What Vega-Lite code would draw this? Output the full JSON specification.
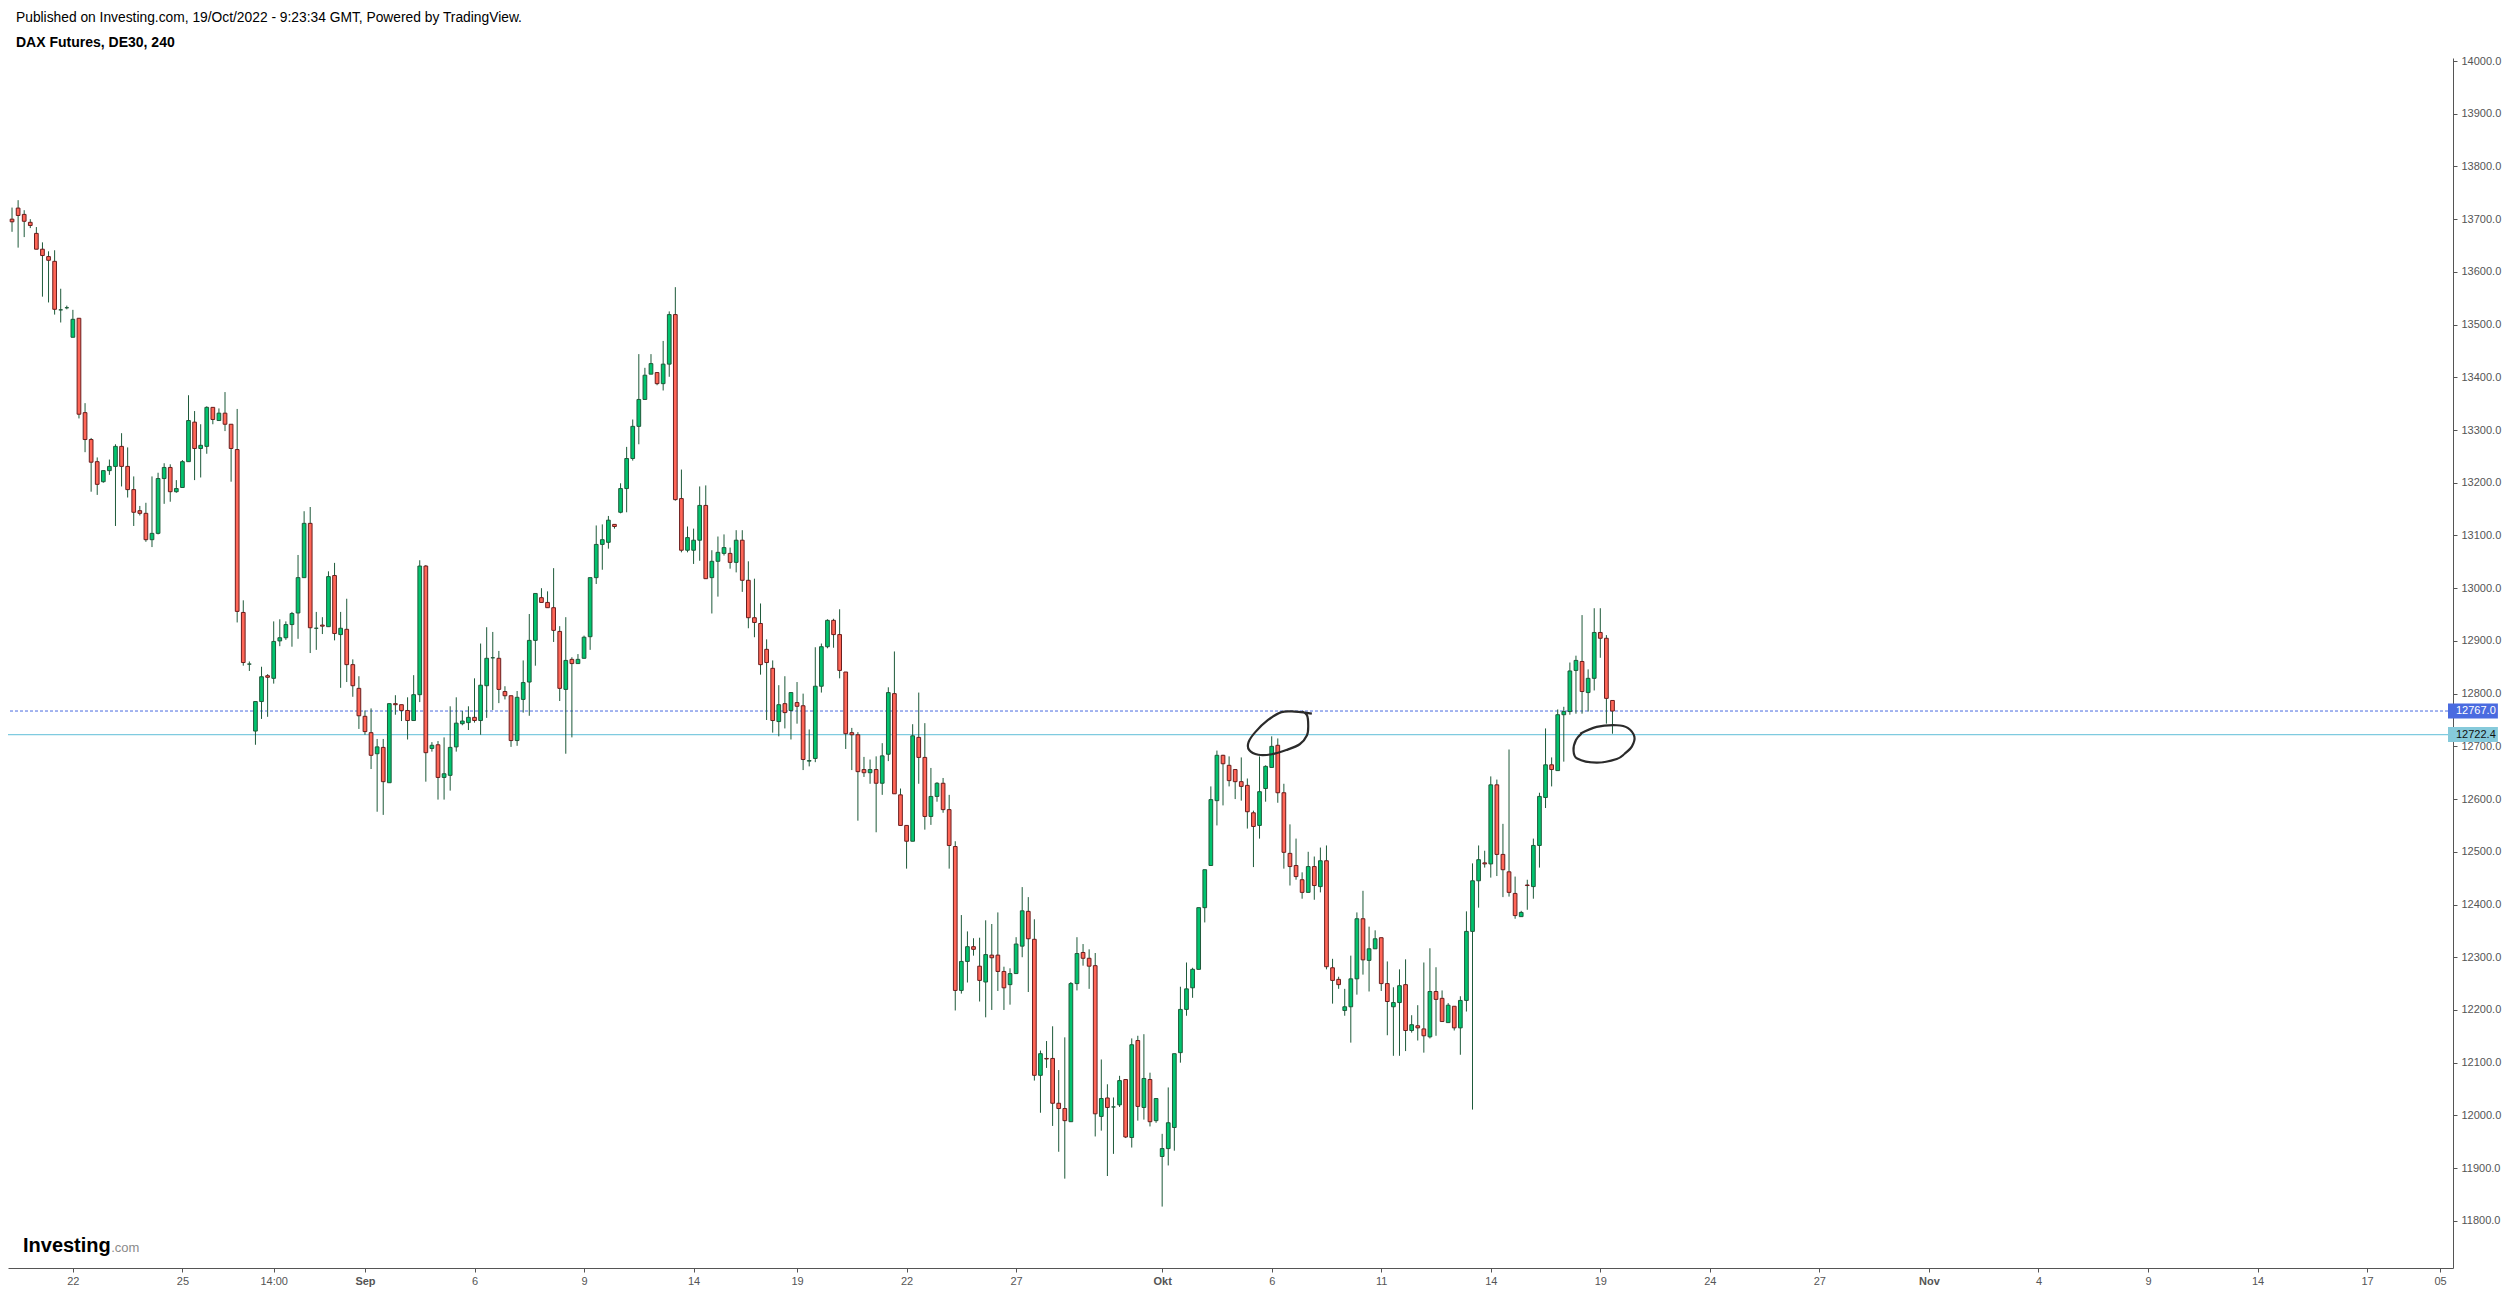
{
  "$schema": "https://vega.github.io/schema/vega-lite/v6.json",
  "width": 2445,
  "height": 1210,
  "autosize": {"type": "none"},
  "padding": {"left": 8, "top": 58, "right": 57, "bottom": 24},
  "background": "#ffffff",
  "config": {"view": {"stroke": null}, "font": "Liberation Sans"},
  "title": {
    "text": "Published on Investing.com, 19/Oct/2022 - 9:23:34 GMT, Powered by TradingView.",
    "subtitle": "DAX Futures, DE30, 240",
    "anchor": "start",
    "frame": "group",
    "orient": "top",
    "dx": 8,
    "offset": 5,
    "font": "Liberation Sans",
    "fontSize": 13.8,
    "fontWeight": "normal",
    "color": "#000000",
    "subtitleFont": "Liberation Sans",
    "subtitleFontSize": 14,
    "subtitleFontWeight": "bold",
    "subtitleColor": "#000000",
    "subtitlePadding": 11
  },
  "datasets": {
    "candles": [
      {"i":0,"o":13700,"h":13722,"l":13676,"c":13695},
      {"i":1,"o":13721,"h":13736,"l":13646,"c":13707},
      {"i":2,"o":13709,"h":13717,"l":13666,"c":13696},
      {"i":3,"o":13694,"h":13700,"l":13683,"c":13688},
      {"i":4,"o":13673,"h":13685,"l":13643,"c":13643},
      {"i":5,"o":13643,"h":13656,"l":13553,"c":13631},
      {"i":6,"o":13629,"h":13639,"l":13542,"c":13622},
      {"i":7,"o":13620,"h":13641,"l":13519,"c":13529},
      {"i":8,"o":13528,"h":13568,"l":13504,"c":13528},
      {"i":9,"o":13532,"h":13536,"l":13529,"c":13532},
      {"i":10,"o":13476,"h":13528,"l":13476,"c":13510},
      {"i":11,"o":13512,"h":13512,"l":13322,"c":13330},
      {"i":12,"o":13333,"h":13351,"l":13258,"c":13282},
      {"i":13,"o":13282,"h":13285,"l":13183,"c":13239},
      {"i":14,"o":13240,"h":13248,"l":13177,"c":13197},
      {"i":15,"o":13202,"h":13223,"l":13200,"c":13223},
      {"i":16,"o":13223,"h":13244,"l":13215,"c":13231},
      {"i":17,"o":13231,"h":13273,"l":13118,"c":13269},
      {"i":18,"o":13269,"h":13294,"l":13193,"c":13231},
      {"i":19,"o":13231,"h":13267,"l":13172,"c":13187},
      {"i":20,"o":13187,"h":13212,"l":13118,"c":13144},
      {"i":21,"o":13147,"h":13156,"l":13138,"c":13142},
      {"i":22,"o":13142,"h":13162,"l":13088,"c":13092},
      {"i":23,"o":13092,"h":13212,"l":13078,"c":13104},
      {"i":24,"o":13104,"h":13219,"l":13102,"c":13208},
      {"i":25,"o":13208,"h":13237,"l":13160,"c":13229},
      {"i":26,"o":13229,"h":13235,"l":13164,"c":13183},
      {"i":27,"o":13183,"h":13205,"l":13181,"c":13189},
      {"i":28,"o":13191,"h":13243,"l":13191,"c":13240},
      {"i":29,"o":13240,"h":13366,"l":13240,"c":13318},
      {"i":30,"o":13315,"h":13336,"l":13205,"c":13265},
      {"i":31,"o":13265,"h":13311,"l":13210,"c":13271},
      {"i":32,"o":13269,"h":13345,"l":13255,"c":13343},
      {"i":33,"o":13343,"h":13343,"l":13311,"c":13320},
      {"i":34,"o":13318,"h":13341,"l":13318,"c":13332},
      {"i":35,"o":13332,"h":13372,"l":13298,"c":13311},
      {"i":36,"o":13311,"h":13311,"l":13202,"c":13265},
      {"i":37,"o":13263,"h":13340,"l":12935,"c":12956},
      {"i":38,"o":12954,"h":12977,"l":12853,"c":12859},
      {"i":39,"o":12856,"h":12861,"l":12843,"c":12856},
      {"i":40,"o":12729,"h":12785,"l":12703,"c":12785},
      {"i":41,"o":12785,"h":12851,"l":12752,"c":12832},
      {"i":42,"o":12834,"h":12837,"l":12756,"c":12831},
      {"i":43,"o":12829,"h":12937,"l":12819,"c":12899},
      {"i":44,"o":12900,"h":12941,"l":12890,"c":12906},
      {"i":45,"o":12906,"h":12937,"l":12902,"c":12931},
      {"i":46,"o":12931,"h":12955,"l":12889,"c":12952},
      {"i":47,"o":12953,"h":13063,"l":12904,"c":13020},
      {"i":48,"o":13020,"h":13146,"l":13020,"c":13123},
      {"i":49,"o":13123,"h":13154,"l":12877,"c":12925},
      {"i":50,"o":12924,"h":12955,"l":12883,"c":12924},
      {"i":51,"o":12930,"h":12945,"l":12913,"c":12928},
      {"i":52,"o":12927,"h":13032,"l":12927,"c":13022},
      {"i":53,"o":13024,"h":13048,"l":12901,"c":12914},
      {"i":54,"o":12912,"h":12955,"l":12811,"c":12924},
      {"i":55,"o":12922,"h":12980,"l":12822,"c":12855},
      {"i":56,"o":12855,"h":12865,"l":12794,"c":12815},
      {"i":57,"o":12810,"h":12833,"l":12733,"c":12758},
      {"i":58,"o":12757,"h":12768,"l":12722,"c":12728},
      {"i":59,"o":12726,"h":12772,"l":12657,"c":12683},
      {"i":60,"o":12686,"h":12714,"l":12576,"c":12699},
      {"i":61,"o":12698,"h":12714,"l":12570,"c":12633},
      {"i":62,"o":12631,"h":12781,"l":12631,"c":12781},
      {"i":63,"o":12781,"h":12797,"l":12760,"c":12779},
      {"i":64,"o":12779,"h":12779,"l":12748,"c":12768},
      {"i":65,"o":12768,"h":12793,"l":12713,"c":12749},
      {"i":66,"o":12749,"h":12835,"l":12749,"c":12798},
      {"i":67,"o":12798,"h":13053,"l":12784,"c":13042},
      {"i":68,"o":13042,"h":13044,"l":12633,"c":12688},
      {"i":69,"o":12696,"h":12708,"l":12690,"c":12702},
      {"i":70,"o":12703,"h":12710,"l":12599,"c":12641},
      {"i":71,"o":12641,"h":12717,"l":12599,"c":12648},
      {"i":72,"o":12645,"h":12776,"l":12616,"c":12698},
      {"i":73,"o":12699,"h":12793,"l":12690,"c":12744},
      {"i":74,"o":12743,"h":12767,"l":12740,"c":12748},
      {"i":75,"o":12745,"h":12776,"l":12731,"c":12755},
      {"i":76,"o":12755,"h":12829,"l":12745,"c":12749},
      {"i":77,"o":12749,"h":12895,"l":12722,"c":12816},
      {"i":78,"o":12815,"h":12926,"l":12754,"c":12867},
      {"i":79,"o":12868,"h":12917,"l":12769,"c":12868},
      {"i":80,"o":12867,"h":12881,"l":12782,"c":12808},
      {"i":81,"o":12804,"h":12814,"l":12789,"c":12796},
      {"i":82,"o":12796,"h":12796,"l":12699,"c":12711},
      {"i":83,"o":12711,"h":12805,"l":12701,"c":12793},
      {"i":84,"o":12789,"h":12863,"l":12764,"c":12821},
      {"i":85,"o":12822,"h":12951,"l":12758,"c":12901},
      {"i":86,"o":12901,"h":12990,"l":12853,"c":12990},
      {"i":87,"o":12982,"h":13000,"l":12973,"c":12973},
      {"i":88,"o":12973,"h":12994,"l":12963,"c":12963},
      {"i":89,"o":12963,"h":13038,"l":12898,"c":12920},
      {"i":90,"o":12918,"h":12928,"l":12786,"c":12810},
      {"i":91,"o":12808,"h":12945,"l":12686,"c":12863},
      {"i":92,"o":12865,"h":12869,"l":12717,"c":12857},
      {"i":93,"o":12857,"h":12875,"l":12857,"c":12865},
      {"i":94,"o":12867,"h":12910,"l":12867,"c":12907},
      {"i":95,"o":12908,"h":13020,"l":12883,"c":13020},
      {"i":96,"o":13020,"h":13119,"l":13008,"c":13083},
      {"i":97,"o":13083,"h":13121,"l":13035,"c":13092},
      {"i":98,"o":13087,"h":13137,"l":13075,"c":13129},
      {"i":99,"o":13121,"h":13121,"l":13113,"c":13117},
      {"i":100,"o":13144,"h":13199,"l":13142,"c":13189},
      {"i":101,"o":13189,"h":13268,"l":13144,"c":13246},
      {"i":102,"o":13246,"h":13320,"l":13242,"c":13307},
      {"i":103,"o":13307,"h":13444,"l":13273,"c":13358},
      {"i":104,"o":13358,"h":13418,"l":13358,"c":13404},
      {"i":105,"o":13406,"h":13444,"l":13406,"c":13426},
      {"i":106,"o":13409,"h":13409,"l":13385,"c":13388},
      {"i":107,"o":13388,"h":13469,"l":13375,"c":13425},
      {"i":108,"o":13425,"h":13525,"l":13401,"c":13519},
      {"i":109,"o":13519,"h":13571,"l":13166,"c":13168},
      {"i":110,"o":13170,"h":13225,"l":13068,"c":13072},
      {"i":111,"o":13072,"h":13117,"l":13068,"c":13096},
      {"i":112,"o":13072,"h":13113,"l":13046,"c":13091},
      {"i":113,"o":13091,"h":13193,"l":13052,"c":13157},
      {"i":114,"o":13157,"h":13195,"l":13018,"c":13018},
      {"i":115,"o":13020,"h":13072,"l":12952,"c":13051},
      {"i":116,"o":13051,"h":13098,"l":12984,"c":13068},
      {"i":117,"o":13066,"h":13102,"l":13062,"c":13077},
      {"i":118,"o":13066,"h":13077,"l":13037,"c":13049},
      {"i":119,"o":13049,"h":13110,"l":13030,"c":13091},
      {"i":120,"o":13091,"h":13110,"l":12993,"c":13015},
      {"i":121,"o":13015,"h":13051,"l":12924,"c":12944},
      {"i":122,"o":12944,"h":13018,"l":12907,"c":12935},
      {"i":123,"o":12933,"h":12971,"l":12836,"c":12855},
      {"i":124,"o":12884,"h":12903,"l":12750,"c":12859},
      {"i":125,"o":12848,"h":12863,"l":12726,"c":12749},
      {"i":126,"o":12747,"h":12816,"l":12719,"c":12779},
      {"i":127,"o":12781,"h":12833,"l":12734,"c":12764},
      {"i":128,"o":12768,"h":12802,"l":12713,"c":12802},
      {"i":129,"o":12783,"h":12822,"l":12743,"c":12776},
      {"i":130,"o":12777,"h":12800,"l":12655,"c":12675},
      {"i":131,"o":12672,"h":12732,"l":12662,"c":12673},
      {"i":132,"o":12677,"h":12888,"l":12670,"c":12814},
      {"i":133,"o":12814,"h":12895,"l":12802,"c":12889},
      {"i":134,"o":12889,"h":12941,"l":12886,"c":12939},
      {"i":135,"o":12939,"h":12942,"l":12887,"c":12912},
      {"i":136,"o":12912,"h":12960,"l":12829,"c":12844},
      {"i":137,"o":12841,"h":12841,"l":12695,"c":12724},
      {"i":138,"o":12726,"h":12735,"l":12655,"c":12722},
      {"i":139,"o":12722,"h":12727,"l":12559,"c":12652},
      {"i":140,"o":12656,"h":12680,"l":12642,"c":12650},
      {"i":141,"o":12650,"h":12675,"l":12629,"c":12656},
      {"i":142,"o":12656,"h":12681,"l":12537,"c":12630},
      {"i":143,"o":12630,"h":12706,"l":12608,"c":12682},
      {"i":144,"o":12685,"h":12812,"l":12672,"c":12802},
      {"i":145,"o":12800,"h":12880,"l":12610,"c":12610},
      {"i":146,"o":12608,"h":12620,"l":12550,"c":12550},
      {"i":147,"o":12550,"h":12550,"l":12468,"c":12520},
      {"i":148,"o":12520,"h":12742,"l":12520,"c":12720},
      {"i":149,"o":12717,"h":12802,"l":12629,"c":12679},
      {"i":150,"o":12679,"h":12744,"l":12542,"c":12567},
      {"i":151,"o":12567,"h":12659,"l":12551,"c":12605},
      {"i":152,"o":12605,"h":12632,"l":12595,"c":12630},
      {"i":153,"o":12630,"h":12640,"l":12574,"c":12580},
      {"i":154,"o":12580,"h":12608,"l":12468,"c":12512},
      {"i":155,"o":12510,"h":12520,"l":12199,"c":12237},
      {"i":156,"o":12237,"h":12380,"l":12231,"c":12292},
      {"i":157,"o":12292,"h":12349,"l":12252,"c":12320},
      {"i":158,"o":12320,"h":12336,"l":12303,"c":12315},
      {"i":159,"o":12283,"h":12337,"l":12216,"c":12256},
      {"i":160,"o":12253,"h":12370,"l":12186,"c":12305},
      {"i":161,"o":12304,"h":12363,"l":12200,"c":12299},
      {"i":162,"o":12304,"h":12385,"l":12236,"c":12273},
      {"i":163,"o":12273,"h":12282,"l":12200,"c":12242},
      {"i":164,"o":12248,"h":12279,"l":12210,"c":12269},
      {"i":165,"o":12269,"h":12338,"l":12269,"c":12325},
      {"i":166,"o":12321,"h":12433,"l":12300,"c":12388},
      {"i":167,"o":12387,"h":12414,"l":12234,"c":12335},
      {"i":168,"o":12334,"h":12372,"l":12066,"c":12076},
      {"i":169,"o":12076,"h":12123,"l":12005,"c":12117},
      {"i":170,"o":12108,"h":12141,"l":12090,"c":12107},
      {"i":171,"o":12108,"h":12169,"l":11980,"c":12023},
      {"i":172,"o":12023,"h":12086,"l":11931,"c":12013},
      {"i":173,"o":12013,"h":12148,"l":11880,"c":11990},
      {"i":174,"o":11988,"h":12253,"l":11988,"c":12250},
      {"i":175,"o":12250,"h":12338,"l":12237,"c":12307},
      {"i":176,"o":12309,"h":12325,"l":12284,"c":12298},
      {"i":177,"o":12298,"h":12315,"l":12240,"c":12283},
      {"i":178,"o":12284,"h":12308,"l":11960,"c":12003},
      {"i":179,"o":11998,"h":12106,"l":11971,"c":12032},
      {"i":180,"o":12033,"h":12059,"l":11885,"c":12015},
      {"i":181,"o":12016,"h":12034,"l":11927,"c":12016},
      {"i":182,"o":12020,"h":12075,"l":12016,"c":12066},
      {"i":183,"o":12068,"h":12068,"l":11957,"c":11959},
      {"i":184,"o":11958,"h":12146,"l":11939,"c":12134},
      {"i":185,"o":12142,"h":12151,"l":11990,"c":12017},
      {"i":186,"o":12015,"h":12154,"l":11992,"c":12070},
      {"i":187,"o":12068,"h":12081,"l":11979,"c":11988},
      {"i":188,"o":11990,"h":12032,"l":11986,"c":12032},
      {"i":189,"o":11922,"h":11965,"l":11827,"c":11937},
      {"i":190,"o":11937,"h":12053,"l":11905,"c":11986},
      {"i":191,"o":11977,"h":12117,"l":11933,"c":12117},
      {"i":192,"o":12119,"h":12244,"l":12100,"c":12201},
      {"i":193,"o":12201,"h":12290,"l":12189,"c":12240},
      {"i":194,"o":12242,"h":12280,"l":12223,"c":12277},
      {"i":195,"o":12277,"h":12394,"l":12277,"c":12394},
      {"i":196,"o":12394,"h":12466,"l":12366,"c":12466},
      {"i":197,"o":12474,"h":12624,"l":12474,"c":12599},
      {"i":198,"o":12597,"h":12692,"l":12550,"c":12683},
      {"i":199,"o":12683,"h":12684,"l":12588,"c":12667},
      {"i":200,"o":12664,"h":12681,"l":12624,"c":12635},
      {"i":201,"o":12656,"h":12656,"l":12600,"c":12633},
      {"i":202,"o":12633,"h":12679,"l":12597,"c":12624},
      {"i":203,"o":12626,"h":12639,"l":12544,"c":12576},
      {"i":204,"o":12574,"h":12578,"l":12471,"c":12548},
      {"i":205,"o":12550,"h":12681,"l":12525,"c":12614},
      {"i":206,"o":12620,"h":12664,"l":12595,"c":12662},
      {"i":207,"o":12660,"h":12719,"l":12660,"c":12700},
      {"i":208,"o":12702,"h":12715,"l":12593,"c":12612},
      {"i":209,"o":12612,"h":12629,"l":12468,"c":12499},
      {"i":210,"o":12497,"h":12552,"l":12436,"c":12472},
      {"i":211,"o":12474,"h":12525,"l":12447,"c":12453},
      {"i":212,"o":12447,"h":12461,"l":12411,"c":12423},
      {"i":213,"o":12423,"h":12500,"l":12423,"c":12472},
      {"i":214,"o":12472,"h":12491,"l":12409,"c":12436},
      {"i":215,"o":12434,"h":12508,"l":12423,"c":12483},
      {"i":216,"o":12483,"h":12512,"l":12277,"c":12282},
      {"i":217,"o":12280,"h":12297,"l":12212,"c":12256},
      {"i":218,"o":12258,"h":12263,"l":12240,"c":12248},
      {"i":219,"o":12199,"h":12240,"l":12189,"c":12206},
      {"i":220,"o":12206,"h":12303,"l":12138,"c":12259},
      {"i":221,"o":12259,"h":12385,"l":12229,"c":12373},
      {"i":222,"o":12373,"h":12426,"l":12267,"c":12295},
      {"i":223,"o":12294,"h":12358,"l":12235,"c":12316},
      {"i":224,"o":12316,"h":12351,"l":12316,"c":12335},
      {"i":225,"o":12337,"h":12337,"l":12236,"c":12250},
      {"i":226,"o":12250,"h":12292,"l":12152,"c":12216},
      {"i":227,"o":12206,"h":12243,"l":12113,"c":12214},
      {"i":228,"o":12214,"h":12277,"l":12113,"c":12246},
      {"i":229,"o":12248,"h":12296,"l":12122,"c":12161},
      {"i":230,"o":12161,"h":12190,"l":12157,"c":12172},
      {"i":231,"o":12170,"h":12209,"l":12142,"c":12166},
      {"i":232,"o":12164,"h":12290,"l":12119,"c":12151},
      {"i":233,"o":12149,"h":12317,"l":12146,"c":12235},
      {"i":234,"o":12235,"h":12281,"l":12151,"c":12220},
      {"i":235,"o":12222,"h":12237,"l":12178,"c":12178},
      {"i":236,"o":12176,"h":12213,"l":12176,"c":12209},
      {"i":237,"o":12207,"h":12207,"l":12161,"c":12166},
      {"i":238,"o":12166,"h":12226,"l":12115,"c":12218},
      {"i":239,"o":12218,"h":12387,"l":12197,"c":12349},
      {"i":240,"o":12349,"h":12478,"l":12011,"c":12445},
      {"i":241,"o":12445,"h":12512,"l":12394,"c":12485},
      {"i":242,"o":12479,"h":12502,"l":12470,"c":12477},
      {"i":243,"o":12477,"h":12643,"l":12451,"c":12627},
      {"i":244,"o":12627,"h":12637,"l":12454,"c":12495},
      {"i":245,"o":12495,"h":12553,"l":12414,"c":12466},
      {"i":246,"o":12462,"h":12694,"l":12415,"c":12423},
      {"i":247,"o":12421,"h":12453,"l":12373,"c":12379},
      {"i":248,"o":12377,"h":12388,"l":12377,"c":12385},
      {"i":249,"o":12437,"h":12447,"l":12390,"c":12436},
      {"i":250,"o":12434,"h":12525,"l":12411,"c":12512},
      {"i":251,"o":12512,"h":12612,"l":12470,"c":12605},
      {"i":252,"o":12603,"h":12734,"l":12583,"c":12665},
      {"i":253,"o":12665,"h":12679,"l":12624,"c":12656},
      {"i":254,"o":12654,"h":12770,"l":12654,"c":12760},
      {"i":255,"o":12760,"h":12775,"l":12671,"c":12766},
      {"i":256,"o":12766,"h":12859,"l":12760,"c":12843},
      {"i":257,"o":12844,"h":12872,"l":12762,"c":12863},
      {"i":258,"o":12861,"h":12949,"l":12762,"c":12804},
      {"i":259,"o":12802,"h":12846,"l":12766,"c":12829},
      {"i":260,"o":12829,"h":12962,"l":12806,"c":12916},
      {"i":261,"o":12916,"h":12962,"l":12868,"c":12905},
      {"i":262,"o":12905,"h":12911,"l":12743,"c":12791},
      {"i":263,"o":12787,"h":12787,"l":12724,"c":12767}
    ],
    "levels": [
      {"p": 12767, "t": "12767.0", "k": "last"},
      {"p": 12722.4, "t": "12722.4", "k": "line"}
    ],
    "drawing": [
      {"g":1,"k":0,"i":213.6,"p":12762},
      {"g":1,"k":1,"i":212.5,"p":12764},
      {"g":1,"k":2,"i":210.8,"p":12766},
      {"g":1,"k":3,"i":208.6,"p":12765},
      {"g":1,"k":4,"i":206.4,"p":12750},
      {"g":1,"k":5,"i":204.3,"p":12727},
      {"g":1,"k":6,"i":203.2,"p":12708},
      {"g":1,"k":7,"i":203.3,"p":12693},
      {"g":1,"k":8,"i":204.8,"p":12684},
      {"g":1,"k":9,"i":207.0,"p":12685},
      {"g":1,"k":10,"i":209.4,"p":12693},
      {"g":1,"k":11,"i":211.6,"p":12704},
      {"g":1,"k":12,"i":212.8,"p":12721},
      {"g":1,"k":13,"i":213.0,"p":12740},
      {"g":1,"k":14,"i":212.8,"p":12759},
      {"g":1,"k":15,"i":212.0,"p":12766},
      {"g":2,"k":0,"i":257.7,"p":12724},
      {"g":2,"k":1,"i":260.4,"p":12737},
      {"g":2,"k":2,"i":263.7,"p":12740},
      {"g":2,"k":3,"i":265.5,"p":12735},
      {"g":2,"k":4,"i":266.6,"p":12718},
      {"g":2,"k":5,"i":266.2,"p":12700},
      {"g":2,"k":6,"i":265.0,"p":12686},
      {"g":2,"k":7,"i":263.7,"p":12676},
      {"g":2,"k":8,"i":260.4,"p":12669},
      {"g":2,"k":9,"i":257.2,"p":12677},
      {"g":2,"k":10,"i":256.6,"p":12693},
      {"g":2,"k":11,"i":257.0,"p":12712},
      {"g":2,"k":12,"i":257.9,"p":12724}
    ]
  },
  "layer": [
    {
      "data": {"name": "levels"},
      "transform": [{"filter": "datum.k == 'last'"}],
      "mark": {"type": "rule", "color": "#4a6be0", "strokeWidth": 1, "strokeDash": [3, 2]},
      "encoding": {
        "y": {"field": "p", "type": "quantitative", "scale": {"domain": [11710.5, 14005.7], "nice": false, "zero": false},
          "axis": {
            "orient": "right",
            "values": [11800,11900,12000,12100,12200,12300,12400,12500,12600,12700,12800,12900,13000,13100,13200,13300,13400,13500,13600,13700,13800,13900,14000],
            "format": ".1f",
            "title": null,
            "grid": false,
            "domainColor": "#555555",
            "domainWidth": 1,
            "tickColor": "#555555",
            "tickSize": 4,
            "labelPadding": 4,
            "labelFont": "Liberation Sans",
            "labelFontSize": 11,
            "labelColor": "#555555",
            "labelOverlap": false,
            "labelFlush": false,
            "labelBound": false
          }
        }
      }
    },
    {
      "data": {"name": "levels"},
      "transform": [{"filter": "datum.k == 'line'"}],
      "mark": {"type": "rule", "color": "#7fcbe0", "strokeWidth": 1.2},
      "encoding": {
        "y": {"field": "p", "type": "quantitative"}
      }
    },
    {
      "data": {"name": "candles"},
      "mark": {"type": "rule", "color": "#1e5a3a", "strokeWidth": 1, "clip": true},
      "encoding": {
        "x": {"field": "i", "type": "quantitative", "scale": {"domain": [0.16, 400.3], "nice": false, "zero": false},
          "axis": {
            "orient": "bottom",
            "values": [10,28,43,58,76,94,112,129,147,165,189,207,225,243,261,279,297,315,333,351,369,387,399],
            "labelExpr": "['22','25','14:00','Sep','6','9','14','19','22','27','Okt','6','11','14','19','24','27','Nov','4','9','14','17','05'][indexof([10,28,43,58,76,94,112,129,147,165,189,207,225,243,261,279,297,315,333,351,369,387,399], datum.value)]",
            "labelFontWeight": {"condition": {"test": "datum.value == 58 || datum.value == 189 || datum.value == 315", "value": "bold"}, "value": "normal"},
            "title": null,
            "grid": false,
            "domainColor": "#555555",
            "domainWidth": 1,
            "tickColor": "#555555",
            "tickSize": 4,
            "labelPadding": 3,
            "labelFont": "Liberation Sans",
            "labelFontSize": 11,
            "labelColor": "#555555",
            "labelOverlap": false,
            "labelFlush": false,
            "labelBound": false
          }
        },
        "y": {"field": "l", "type": "quantitative"},
        "y2": {"field": "h"}
      }
    },
    {
      "data": {"name": "candles"},
      "mark": {"type": "bar", "size": 3.7, "strokeWidth": 1, "clip": true},
      "encoding": {
        "x": {"field": "i", "type": "quantitative"},
        "y": {"field": "o", "type": "quantitative"},
        "y2": {"field": "c"},
        "fill": {"condition": {"test": "datum.c >= datum.o", "value": "#00c46f"}, "value": "#ff6657"},
        "stroke": {"condition": {"test": "datum.c >= datum.o", "value": "#1e5a3a"}, "value": "#6b1d1d"}
      }
    },
    {
      "data": {"name": "drawing"},
      "mark": {"type": "line", "interpolate": "cardinal", "color": "#2b2b2b", "strokeWidth": 2.2, "clip": true},
      "encoding": {
        "x": {"field": "i", "type": "quantitative"},
        "y": {"field": "p", "type": "quantitative"},
        "order": {"field": "k", "type": "quantitative"},
        "detail": {"field": "g", "type": "nominal"}
      }
    },
    {
      "data": {"name": "levels"},
      "mark": {"type": "rule", "strokeWidth": 15},
      "encoding": {
        "x": {"datum": 400.3},
        "x2": {"datum": 408.5},
        "y": {"field": "p", "type": "quantitative"},
        "color": {"condition": {"test": "datum.k == 'last'", "value": "#4a6be0"}, "value": "#86cadb"}
      }
    },
    {
      "data": {"name": "levels"},
      "mark": {"type": "text", "align": "left", "baseline": "middle", "dx": 8, "font": "Liberation Sans", "fontSize": 11},
      "encoding": {
        "x": {"datum": 400.3},
        "y": {"field": "p", "type": "quantitative"},
        "text": {"field": "t"},
        "color": {"condition": {"test": "datum.k == 'last'", "value": "#ffffff"}, "value": "#111111"}
      }
    },
    {
      "data": {"values": [{"t": "Investing"}]},
      "mark": {"type": "text", "align": "left", "baseline": "alphabetic", "font": "Liberation Sans", "fontSize": 20, "fontWeight": "bold", "color": "#000000"},
      "encoding": {
        "x": {"datum": 1.8},
        "y": {"datum": 11740},
        "text": {"field": "t"}
      }
    },
    {
      "data": {"values": [{"t": ".com"}]},
      "mark": {"type": "text", "align": "left", "baseline": "alphabetic", "font": "Liberation Sans", "fontSize": 13, "color": "#8a8a8a"},
      "encoding": {
        "x": {"datum": 16.3},
        "y": {"datum": 11740},
        "text": {"field": "t"}
      }
    }
  ]
}
